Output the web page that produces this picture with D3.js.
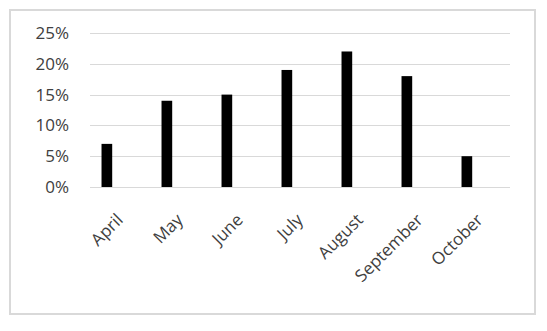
<!DOCTYPE html>
<html>
<head>
<meta charset="utf-8">
<script src="https://cdn.jsdelivr.net/npm/d3@7"></script>
<style>
  body { margin: 0; background: #fff; }
  svg text { font-family: "Open Sans", "Liberation Sans", sans-serif; fill: #404040; }
</style>
</head>
<body>
<div id="chart"></div>
<script>
// ---- Data ----
const months = ["April", "May", "June", "July", "August", "September", "October"];
const shares = [0.07, 0.14, 0.15, 0.19, 0.22, 0.18, 0.05];
const yTicks = [0, 0.05, 0.10, 0.15, 0.20, 0.25];

const width = 547, height = 331;
const margin = {top: 33, right: 37, bottom: 144, left: 90};
const innerW = width - margin.left - margin.right;
const innerH = height - margin.top - margin.bottom;

const svg = d3.select("#chart").append("svg")
    .attr("width", width)
    .attr("height", height);

// chart area border
svg.append("rect")
    .attr("x", 10).attr("y", 10)
    .attr("width", 525).attr("height", 304)
    .attr("fill", "#fff")
    .attr("stroke", "#d9d9d9")
    .attr("stroke-width", 2);

const g = svg.append("g")
    .attr("transform", `translate(${margin.left},${margin.top})`);

// one band per month; the bar sits left of the band centre (as in the source)
const x = d3.scaleBand()
    .domain(months)
    .range([0, innerW])
    .padding(0);

const barOffset = 0.192, barWidth = 0.178;

const y = d3.scaleLinear()
    .domain([0, 0.25])
    .range([innerH, 0]);

// gridlines
g.append("g")
    .selectAll("line")
    .data(yTicks)
    .join("line")
    .attr("x1", 0).attr("x2", innerW)
    .attr("y1", d => Math.round(y(d)) + 0.5)
    .attr("y2", d => Math.round(y(d)) + 0.5)
    .attr("stroke", "#d9d9d9")
    .attr("stroke-width", 1);

// y axis labels
const yAxis = d3.axisLeft(y)
    .tickValues(yTicks)
    .tickFormat(d3.format(".0%"))
    .tickSize(0)
    .tickPadding(21);

g.append("g")
    .call(yAxis)
    .call(s => s.select(".domain").remove())
    .selectAll("text")
    .style("font-size", "17px");

// bars
g.append("g")
    .selectAll("rect")
    .data(shares)
    .join("rect")
    .attr("x", (d, i) => x(months[i]) + x.bandwidth() * barOffset)
    .attr("y", d => y(d))
    .attr("width", x.bandwidth() * barWidth)
    .attr("height", d => y(0) - y(d))
    .attr("fill", "#000");

// x axis labels, rotated
const xAxis = d3.axisBottom(x).tickSize(0).tickPadding(0);
g.append("g")
    .attr("transform", `translate(0,${innerH})`)
    .call(xAxis)
    .call(s => s.select(".domain").remove())
    .selectAll("text")
    .style("font-size", "17px")
    .attr("text-anchor", "end")
    .attr("dy", null)
    .attr("y", 0)
    .attr("transform", "translate(4,34) rotate(-45)");
</script>
</body>
</html>
